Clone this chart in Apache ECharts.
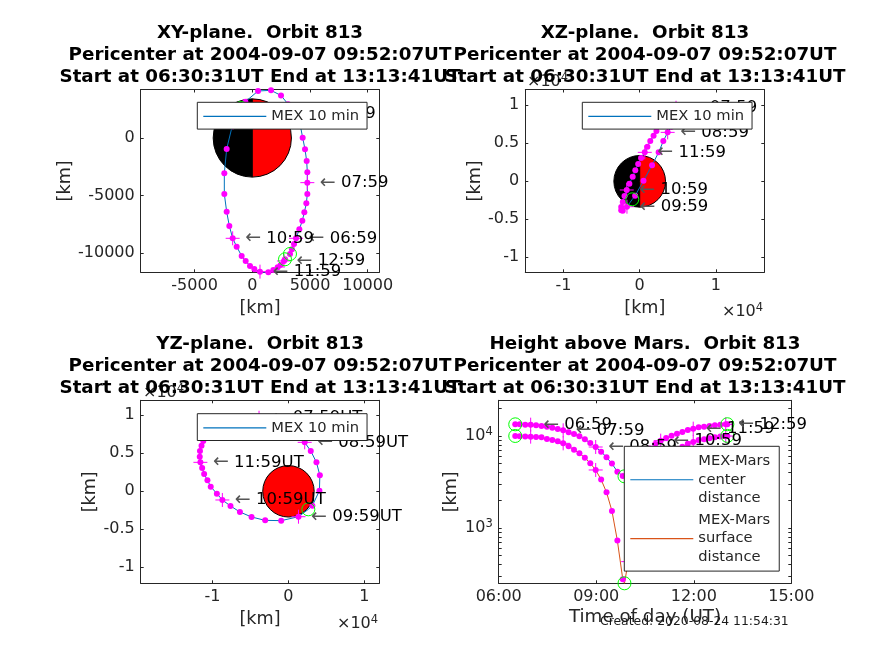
<!DOCTYPE html>
<html><head><meta charset="utf-8">
<style>html,body{margin:0;padding:0;background:#fff}#c{width:874px;height:655px}</style>
<script src="https://cdn.jsdelivr.net/npm/echarts@6/dist/echarts.min.js"></script>
</head><body><div id="c"></div>
<script>
const times=['06:30:31','06:39','06:49','06:59','07:09','07:19','07:29','07:39','07:49','07:59','08:09','08:19','08:29','08:39','08:49','08:59','09:09','09:19','09:29','09:39','09:49','09:52:07','09:59','10:09','10:19','10:29','10:39','10:49','10:59','11:09','11:19','11:29','11:39','11:49','11:59','12:09','12:19','12:29','12:39','12:49','12:59','13:02'];
const xPos=[3267,3440,3614,3787,4076,4336,4509,4683,4769,4769,4769,4711,4567,4365,4150,3670,3100,2487,1620,500,-600,-970,-1670,-2221,-2424,-2424,-2221,-1990,-1701,-1355,-921,-575,-199,176,667,1014,1389,1822,2198,2458,2747,2834];
const yPos=[-10069,-9664,-9201,-8709,-7928,-7175,-6452,-5671,-4861,-3877,-2980,-1996,-984,29,1130,2140,2940,3690,4137,4080,3150,2620,1320,-955,-3067,-4861,-6394,-7638,-8709,-9433,-10242,-10676,-11110,-11371,-11603,-11689,-11660,-11457,-11226,-11023,-10676,-10531];
const zPos=[8150,8500,8880,9200,9450,9620,9700,9760,9750,9680,9400,9150,8720,8090,7190,6440,5300,3810,2100,80,-1890,-2370,-3340,-3860,-3820,-3380,-2720,-1930,-1140,-310,610,1440,2280,3070,3810,4560,5300,6000,6630,7300,7950,8200];
const centerDist=[13370,13370,13260,13260,13040,12830,12620,12310,11900,11510,10950,10490,9900,9190,8380,7580,6750,5860,5000,4090,3670,3640,3820,4550,5470,6400,7300,8170,8890,9500,10070,10590,11040,11600,12000,12400,12610,12820,13040,13260,13360,13400];
const surfaceDist=[9990,9905,9865,9820,9740,9660,9265,9035,8740,8310,7710,7095,6470,5805,5040,4265,3350,2440,1530,728,276,250,430,1160,2080,3010,3910,4780,5490,6110,6680,7200,7650,8210,8610,9010,9220,9430,9650,9870,9970,10010];
const marsRadius=3390;
const periTime='09:52:07';
const titleLine2='Pericenter at 2004-09-07 09:52:07UT';
const titleLine3='Start at 06:30:31UT End at 13:13:41UT';
const panelTitles=['XY-plane.  Orbit 813','XZ-plane.  Orbit 813','YZ-plane.  Orbit 813','Height above Mars.  Orbit 813'];
const xyTicks=[-5000,0,5000,10000], xyYTicks=[-10000,-5000,0];
const wideTicks=[-10000,0,10000], zTicks=[-10000,-5000,0,5000,10000];
const logLabels=[1000,10000];
const logTicks=[300,400,500,600,700,800,900,1000,2000,3000,4000,5000,6000,7000,8000,9000,10000,20000];

const BLUE='#0072BD',RED='#D95319',MAG='#FF00FF',GRN='#00FF00',INK='#262626',FONT='"DejaVu Sans"';
const hrs=t=>{const p=t.split(':').map(Number);return p[0]+p[1]/60+(p[2]||0)/3600;};
const isHour=t=>t.endsWith(':59')&&t.length===5;
const PLUS='path://M0 10H20M10 0V20';
const grids=[{left:140.7,top:89.5,width:238.6,height:182.8},{left:525.3,top:89.5,width:239,height:182.8},{left:140.7,top:400.3,width:238.6,height:183},{left:498.7,top:400.3,width:292.6,height:183}];
const option={animation:false,backgroundColor:'#fff',textStyle:{fontFamily:FONT},grid:grids.map(g=>({...g,containLabel:false})),xAxis:[],yAxis:[],series:[],legend:[],title:[]};

function addAxes(kind,gi,cfg){
  const common={gridIndex:gi,type:cfg.type||'value',min:cfg.min,max:cfg.max,splitLine:{show:false},minorSplitLine:{show:false},
    axisLine:{show:true,onZero:false,lineStyle:{color:INK,width:1}}};
  const tick={show:true,inside:true,length:3,lineStyle:{color:INK,width:1}};
  const arr=option[kind];
  const main={...common,position:kind==='xAxis'?'bottom':'left',name:cfg.name,nameLocation:'middle',nameGap:cfg.nameGap,
    nameTextStyle:{fontSize:cfg.nameSize||17.6,color:INK,fontFamily:FONT},
    axisTick:{...tick,customValues:cfg.ticks},
    axisLabel:{show:true,color:INK,fontSize:16,fontFamily:FONT,margin:cfg.margin||6,hideOverlap:false,showMinLabel:true,showMaxLabel:true,customValues:cfg.labels,formatter:cfg.fmt,rich:cfg.rich}};
  if(kind==='yAxis')main.nameRotate=90;
  const other={...common,position:kind==='xAxis'?'top':'right',axisTick:{...tick,customValues:cfg.ticks},axisLabel:{show:false}};
  arr.push(main,other);
  return arr.length-2;
}
const plain=v=>String(v);
const e4=v=>String(v/10000);

function addMars(gi,half){
  option.series.push({type:'custom',xAxisIndex:gi*2,yAxisIndex:gi*2,z:1,silent:true,clip:false,encode:{x:0,y:1},data:[[0,0,marsRadius]],
    renderItem(p,api){
      const c=api.coord([api.value(0),api.value(1)]),r=api.size([api.value(2),api.value(2)])[0];
      const st={stroke:'#000',lineWidth:1};
      const arc=(a,b,f)=>({type:'sector',shape:{cx:c[0],cy:c[1],r,r0:0,startAngle:a,endAngle:b},style:{...st,fill:f}});
      return {type:'group',children:half?[arc(Math.PI/2,Math.PI*1.5,'#000'),arc(-Math.PI/2,Math.PI/2,'#F00')]:[arc(0,Math.PI*2,'#F00')]};
    }});
}
function addCurve(gi,name,color,xs,ys,suffix,labelled){
  const ax={xAxisIndex:gi*2,yAxisIndex:gi*2};
  const pts=times.map((t,i)=>[xs[i],ys[i],t]);
  option.series.push({type:'line',name,...ax,symbol:'none',z:2,clip:true,lineStyle:{color,width:1},itemStyle:{color},data:pts.map(p=>[p[0],p[1]])});
  option.series.push({type:'scatter',...ax,z:3,symbol:'circle',symbolSize:6,itemStyle:{color:MAG,opacity:1,borderWidth:0},data:pts.filter(p=>p[2]!==periTime).map(p=>[p[0],p[1]])});
  option.series.push({type:'scatter',...ax,z:4,symbol:PLUS,symbolSize:14,itemStyle:{color:'none',borderColor:MAG,borderWidth:1,opacity:1},
    label:{show:labelled,position:'right',distance:3,offset:[0,2],color:'#000',fontSize:16.5,fontFamily:FONT,formatter:p=>'{a|←} '+p.value[2]+suffix,rich:{a:{color:'#555',fontSize:19,fontFamily:FONT}}},
    labelLayout:{hideOverlap:false},
    data:pts.filter(p=>isHour(p[2]))});
  option.series.push({type:'scatter',...ax,z:4,symbol:'circle',symbolSize:13,itemStyle:{color:'none',borderColor:GRN,borderWidth:1,opacity:1},
    data:pts.filter((p,i)=>i===0||i===pts.length-1||p[2]===periTime).map(p=>[p[0],p[1]])});
}
function addLegend(cfg){
  option.legend.push({z:20,left:cfg.left,top:cfg.top,orient:'vertical',data:cfg.names,backgroundColor:'#fff',borderColor:INK,borderWidth:1,borderRadius:0,
    padding:cfg.padding,itemWidth:63,itemHeight:1.2,itemGap:cfg.gap||0,icon:'rect',selectedMode:false,
    textStyle:{fontSize:14.7,color:INK,fontFamily:FONT,lineHeight:18.3}});
}
function addExp(left,top){
  option.title.push({z:1,left,top,padding:0,text:'×10{s|4}',textStyle:{fontWeight:'normal',color:INK,fontSize:16,fontFamily:FONT,rich:{s:{fontSize:11.5,color:INK,fontFamily:FONT,padding:[0,0,8,0]}}}});
}
function addTitle(text,cx,top){
  option.title.push({z:6,left:cx,top,padding:0,textAlign:'center',text:text+'\n'+titleLine2+'\n'+titleLine3,textStyle:{fontWeight:'bold',color:'#000',fontSize:18.3,lineHeight:22,fontFamily:FONT}});
}

// exponents first so the titles print over them
addExp(527,72);addExp(143,383);addExp(722,302);addExp(337,614);

addTitle(panelTitles[0],260,22);addTitle(panelTitles[1],645,22);addTitle(panelTitles[2],260,333);addTitle(panelTitles[3],645,333);

// XY
addAxes('xAxis',0,{min:-9670,max:11005,ticks:xyTicks,labels:xyTicks,fmt:plain,name:'[km]',nameGap:27});
addAxes('yAxis',0,{min:-11660,max:4210,ticks:xyYTicks,labels:xyYTicks,fmt:plain,name:'[km]',nameGap:65});
addMars(0,true);addCurve(0,'MEX 10 min',BLUE,xPos,yPos,'',true);
// XZ
addAxes('xAxis',1,{min:-15010,max:16350,ticks:wideTicks,labels:wideTicks,fmt:e4,name:'[km]',nameGap:27});
addAxes('yAxis',1,{min:-11970,max:12080,ticks:zTicks,labels:zTicks,fmt:e4,name:'[km]',nameGap:38});
addMars(1,true);addCurve(1,'MEX 10 min',BLUE,xPos,zPos,'',true);
// YZ
addAxes('xAxis',2,{min:-19470,max:11970,ticks:wideTicks,labels:wideTicks,fmt:e4,name:'[km]',nameGap:27});
addAxes('yAxis',2,{min:-12100,max:11970,ticks:zTicks,labels:zTicks,fmt:e4,name:'[km]',nameGap:40});
addMars(2,false);addCurve(2,'MEX 10 min',BLUE,yPos,zPos,'UT',true);
// Height
const tH=times.map(hrs);
const hh=v=>String(v).padStart(2,'0')+':00';
addAxes('xAxis',3,{min:6,max:15,ticks:[6,9,12,15],labels:[6,9,12,15],fmt:hh,name:'Time of day (UT)',nameGap:25,nameSize:18.3});
addAxes('yAxis',3,{type:'log',min:250,max:24400,ticks:logTicks,labels:logLabels,
  fmt:v=>'{b|10}{s|'+Math.round(Math.log10(v))+'}',rich:{b:{fontSize:16,color:INK,fontFamily:FONT},s:{fontSize:11.5,color:INK,fontFamily:FONT,padding:[0,0,8,0]}},name:'[km]',nameGap:38});
const nameC='MEX-Mars\ncenter\ndistance',nameS='MEX-Mars\nsurface\ndistance';
addCurve(3,nameS,RED,tH,surfaceDist,'',false);
addCurve(3,nameC,BLUE,tH,centerDist,'',true);

addLegend({left:197.3,top:102.3,names:['MEX 10 min'],padding:[5,8,3.5,6]});
addLegend({left:582.3,top:102.3,names:['MEX 10 min'],padding:[5,8,3.5,6]});
addLegend({left:197.3,top:413.7,names:['MEX 10 min'],padding:[5,8,3.5,6]});
addLegend({left:624.3,top:446.3,names:[nameC,nameS],padding:[6,9,5,6],gap:4});

option.title.push({z:7,left:600,top:616,padding:0,text:'Created: 2020-08-24 11:54:31',textStyle:{fontWeight:'normal',color:'#1a1a1a',fontSize:12.4,fontFamily:FONT}});

echarts.init(document.getElementById('c'),null,{renderer:'canvas'}).setOption(option);
</script></body></html>
